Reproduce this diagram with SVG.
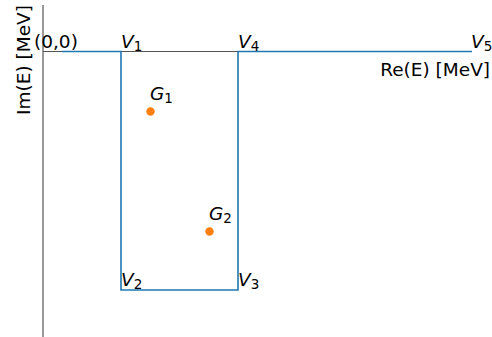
<svg xmlns="http://www.w3.org/2000/svg" width="492" height="337" viewBox="0 0 492 337">
<style>
text{font-family:"DejaVu Sans",sans-serif;font-size:18.5px;fill:#000}
.it{font-style:italic}
.sub{font-size:13.5px;font-style:normal}
.axis{stroke:#555;stroke-width:1.2;fill:none}
.contour{stroke:#1f77b4;stroke-width:1.6;fill:none}
.pt{fill:#ff7f0e}
</style>
<rect width="492" height="337" fill="#fff"/>
<g id="axes">
<line class="axis" x1="43" y1="5" x2="43" y2="337"/>
<line class="axis" x1="43" y1="51.5" x2="472" y2="51.5"/>
<text x="490" y="76" text-anchor="end">Re(E) [MeV]</text>
<text transform="translate(30,60) rotate(-90)" text-anchor="middle">Im(E) [MeV]</text>
<text x="34" y="48">(0,0)</text>
</g>
<g id="connectors">
<polyline class="contour" points="62,51.5 121,51.5 121,290 238,290 238,51.5 472,51.5"/>
</g>
<g id="V1"><text x="121" y="47.5"><tspan class="it">V</tspan><tspan class="sub" dy="3.5">1</tspan></text></g>
<g id="V4"><text x="238" y="47.5"><tspan class="it">V</tspan><tspan class="sub" dy="3.5">4</tspan></text></g>
<g id="V5"><text x="471" y="47.5"><tspan class="it">V</tspan><tspan class="sub" dy="3.5">5</tspan></text></g>
<g id="V2"><text x="121" y="285.5"><tspan class="it">V</tspan><tspan class="sub" dy="3.5">2</tspan></text></g>
<g id="V3"><text x="238" y="285.5"><tspan class="it">V</tspan><tspan class="sub" dy="3.5">3</tspan></text></g>
<g id="G1"><circle class="pt" cx="150.5" cy="111.5" r="4.2"/><text x="150" y="99.5"><tspan class="it">G</tspan><tspan class="sub" dy="3.5">1</tspan></text></g>
<g id="G2"><circle class="pt" cx="209.5" cy="231.5" r="4.2"/><text x="209" y="219.5"><tspan class="it">G</tspan><tspan class="sub" dy="3.5">2</tspan></text></g>
</svg>
